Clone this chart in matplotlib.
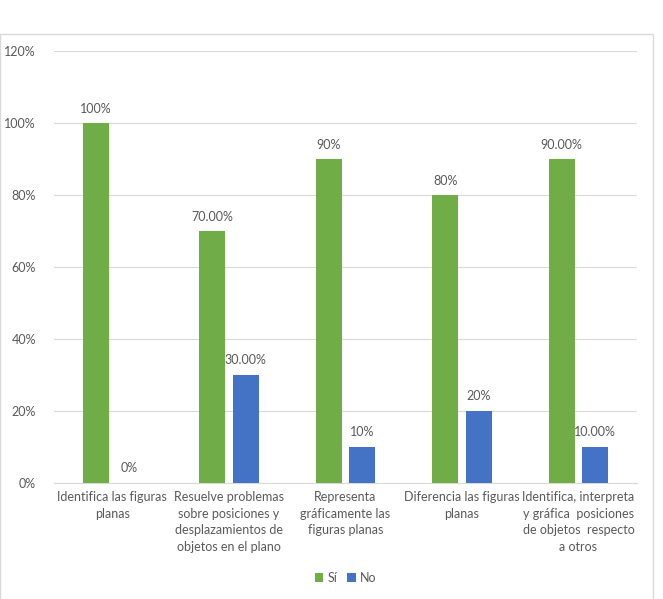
import matplotlib.pyplot as plt
from matplotlib.patches import Rectangle

categorias = ["Identifica las figuras\nplanas",
              "Resuelve problemas\nsobre posiciones y\ndesplazamientos de\nobjetos en el plano",
              "Representa\ngráficamente las\nfiguras planas",
              "Diferencia las figuras\nplanas",
              "Identifica, interpreta\ny gráfica  posiciones\nde objetos  respecto\na otros"]
si = [100, 70, 90, 80, 90]
no = [0, 30, 10, 20, 10]
etiquetas_si = ["100%", "70.00%", "90%", "80%", "90.00%"]
etiquetas_no = ["0%", "30.00%", "10%", "20%", "10.00%"]

plt.rcParams['font.family'] = ['Lato', 'DejaVu Sans']
gris = '#595959'

fig = plt.figure(figsize=(6.63, 5.99), dpi=100)
ax = fig.add_axes([0.0814, 0.194, 0.879, 0.721])

x = range(len(categorias))
w = 0.223
xs = [i - 0.1435 for i in x]
xn = [i + 0.1435 for i in x]
b1 = ax.bar(xs, si, w, color='#70AD47', label='Sí', zorder=3)
b2 = ax.bar(xn, no, w, color='#4472C4', label='No', zorder=3)
ax.bar_label(b1, labels=etiquetas_si, padding=6, color=gris, fontsize=9)
ax.bar_label(b2, labels=etiquetas_no, padding=6, color=gris, fontsize=9)

ax.set_ylim(0, 120)
ax.set_xlim(-0.5, len(categorias) - 0.5)
ax.set_yticks(range(0, 121, 20))
ax.set_yticklabels([f"{v}%" for v in range(0, 121, 20)])
ax.set_xticks(list(x))
ax.set_xticklabels(categorias, fontsize=9, color=gris, linespacing=1.45)
ax.tick_params(axis='y', colors=gris, labelsize=9, length=0, pad=13)
ax.tick_params(axis='x', length=0, pad=6)
ax.grid(axis='y', color='#D9D9D9', linewidth=0.8, zorder=0)
for s in ['top', 'right', 'left']:
    ax.spines[s].set_visible(False)
ax.spines['bottom'].set_color('#D9D9D9')

ax.legend(loc='center', bbox_to_anchor=(0.5, -0.22), ncol=2, frameon=False,
          handlelength=0.7, handleheight=0.7, handletextpad=0.3, columnspacing=0.8,
          labelcolor=gris, fontsize=9)

fig.patches.append(Rectangle((0.0, -0.01), 0.985, 0.953, transform=fig.transFigure,
                             fill=False, edgecolor='#D9D9D9', linewidth=1))

fig.savefig('out.png', dpi=100)
